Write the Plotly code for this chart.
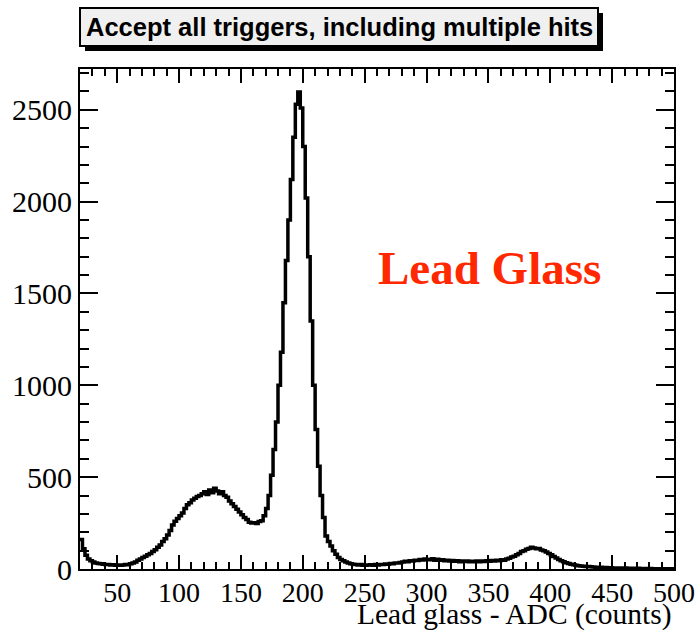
import plotly.graph_objects as go

# ADC histogram: 2-count bins from 20 to 500
bin_lo = 20
bin_width = 2
counts = [
    160, 110, 75, 55, 45, 38, 32, 30, 28, 26,        # 20-40
    25, 24, 22, 23, 21, 22, 20, 22, 24, 23,          # 40-60
    28, 32, 38, 48, 55, 62, 70, 78, 85, 95,          # 60-80
    105, 118, 130, 150, 165, 185, 210, 240, 260, 275,  # 80-100
    290, 305, 330, 350, 360, 375, 385, 395, 400, 410,  # 100-120
    420, 405, 430, 415, 440, 425, 410, 420, 400, 390,  # 120-140
    370, 355, 340, 325, 310, 295, 280, 270, 255, 250,  # 140-160
    252, 248, 258, 262, 290, 330, 400, 510, 650, 800,  # 160-180
    1000, 1180, 1450, 1680, 1900, 2120, 2350, 2530, 2597, 2510,  # 180-200
    2300, 2020, 1700, 1350, 1000, 760, 560, 400, 280, 180,  # 200-220
    150, 125, 100, 80, 62, 52, 45, 38, 32, 28,       # 220-240
    26, 24, 22, 24, 21, 20, 22, 23, 21, 24,          # 240-260
    22, 25, 24, 27, 26, 30, 28, 33, 32, 36,          # 260-280
    38, 42, 40, 45, 43, 48, 46, 52, 49, 55,          # 280-300
    52, 50, 56, 48, 53, 47, 50, 45, 48, 44,          # 300-320
    46, 42, 45, 40, 43, 41, 44, 39, 42, 40,          # 320-340
    43, 40, 44, 41, 45, 42, 46, 43, 48, 45,          # 340-360
    50, 48, 55, 58, 65, 70, 78, 85, 95, 100,         # 360-380
    108, 112, 118, 115, 110, 112, 104, 100, 92, 85,  # 380-400
    78, 68, 60, 52, 45, 40, 34, 30, 26, 23,          # 400-420
    20, 18, 17, 15, 14, 13, 12, 11, 10, 10,          # 420-440
    9, 8, 8, 7, 7, 6, 6, 5, 5, 5,                    # 440-460
    5, 4, 4, 4, 3, 4, 3, 3, 3, 2,                    # 460-480
    3, 2, 2, 2, 2, 1, 2, 1, 1, 1,                    # 480-500
]

x_ticks = [50, 100, 150, 200, 250, 300, 350, 400, 450, 500]
y_ticks = [0, 500, 1000, 1500, 2000, 2500]

title_text = "Accept all triggers, including multiple hits"
x_title = "Lead glass - ADC (counts)"
label_text = "Lead Glass"

# step outline: left edges plus closing right edge
edges = [bin_lo + i * bin_width for i in range(len(counts) + 1)]
step_y = counts + [counts[-1]]

W, H = 698, 636
ML, MR, MT, MB = 80, 24, 69, 67
PW, PH = W - ML - MR, H - MT - MB


def px(x):
    return (x - ML) / PW


def py(y):
    return (H - MB - y) / PH


fig = go.Figure()
fig.add_trace(go.Scatter(
    x=edges, y=step_y, mode="lines", line_shape="hv",
    line=dict(color="black", width=3.5), hoverinfo="skip", showlegend=False,
))

axis_common = dict(
    showline=True, linecolor="black", linewidth=2, mirror="ticks",
    ticks="inside", tickcolor="black", tickwidth=2,
    showgrid=False, zeroline=False, automargin=False,
)

fig.update_xaxes(
    range=[20, 500], tickmode="array", tickvals=x_ticks,
    ticktext=[str(v) for v in x_ticks], ticklen=14, ticklabelstandoff=-3,
    tickfont=dict(family="Liberation Serif", size=28, color="black"),
    minor=dict(tick0=0, dtick=10, ticklen=7, ticks="inside",
               tickcolor="black", tickwidth=2),
    **axis_common,
)
fig.update_yaxes(
    range=[0, 2722], tickmode="array", tickvals=y_ticks,
    ticktext=[str(v) for v in y_ticks], ticklen=18,
    tickfont=dict(family="Liberation Serif", size=30, color="black"),
    minor=dict(tick0=0, dtick=100, ticklen=9, ticks="inside",
               tickcolor="black", tickwidth=2),
    **axis_common,
)

# title box with drop shadow
bx0, bx1, by0, by1 = 80, 598, 8, 46
fig.add_shape(type="rect", xref="paper", yref="paper",
              x0=px(bx0 + 5), x1=px(bx1 + 5), y0=py(by1 + 5), y1=py(by0 + 5),
              fillcolor="black", line=dict(width=0), layer="above")
fig.add_shape(type="rect", xref="paper", yref="paper",
              x0=px(bx0), x1=px(bx1), y0=py(by1), y1=py(by0),
              fillcolor="#f0f0f0", line=dict(color="black", width=2), layer="above")
fig.add_annotation(
    text=title_text, xref="paper", yref="paper",
    x=px((bx0 + bx1) / 2), y=py((by0 + by1) / 2),
    xanchor="center", yanchor="middle", showarrow=False,
    font=dict(family="Liberation Sans", size=25.5, color="black", weight="bold"),
)

fig.add_annotation(
    text=x_title, xref="paper", yref="paper", x=1, y=py(614),
    xanchor="right", yanchor="middle", showarrow=False,
    font=dict(family="Liberation Serif", size=29.5, color="black"),
)

fig.add_annotation(
    text=label_text, xref="paper", yref="paper", x=px(489), y=py(268),
    xanchor="center", yanchor="middle", showarrow=False,
    font=dict(family="Liberation Serif", size=47, color="rgb(255,40,0)", weight="bold"),
)

fig.update_layout(
    width=W, height=H,
    margin=dict(l=ML, r=MR, t=MT, b=MB),
    paper_bgcolor="white", plot_bgcolor="white",
)

fig.write_html("out.html")
